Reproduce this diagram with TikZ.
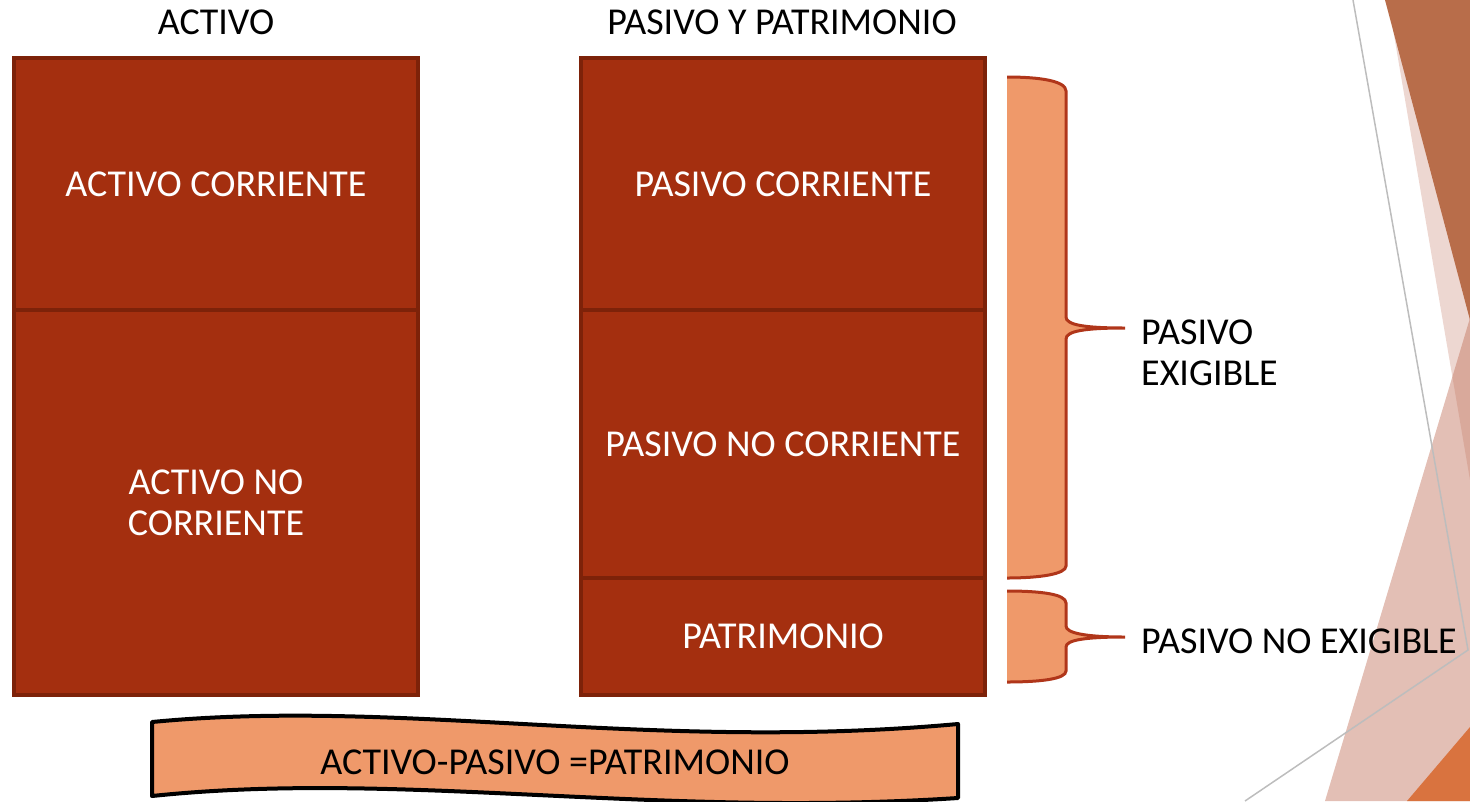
\documentclass[tikz,border=0pt]{standalone}
\usepackage{fontspec}
\setmainfont{Carlito}
\definecolor{boxfill}{HTML}{A42F0F}
\definecolor{boxline}{HTML}{7D2209}
\definecolor{bracefill}{HTML}{EF996A}
\definecolor{braceline}{HTML}{B0361A}
\definecolor{decodark}{HTML}{B86D4A}
\definecolor{decobase}{HTML}{C0705A}
\definecolor{decoorange}{HTML}{D9733F}
\definecolor{decoline}{HTML}{BDBDBD}
\begin{document}
\begin{tikzpicture}[x=1pt,y=-1pt,
  every node/.style={font=\fontsize{38}{41}\selectfont, inner sep=0pt},
  block/.style={draw=boxline, line width=3.5pt, fill=boxfill, text=white, minimum width=404pt, align=center},
  title/.style={text=black},
  label/.style={text=black, anchor=west, align=left},
  brace/.style={draw=braceline, line width=3pt},
  banner/.style={draw=black, line width=4pt, fill=bracefill, line join=round}]
\useasboundingbox (0,0) rectangle (1470,801);
% decoration on the right
\fill[decobase, opacity=0.28] (1388,0) -- (1470,0) -- (1470,480) -- cycle;
\fill[decodark] (1385,0) -- (1470,0) -- (1470,320) -- cycle;
\fill[decobase, opacity=0.45] (1470,318) -- (1325,801) -- (1470,801) -- cycle;
\fill[decoorange] (1407,801) -- (1470,727) -- (1470,801) -- cycle;
\draw[decoline, line width=1.5pt] (1353,0) -- (1468,650) -- (1245,801);
% titles
\node[title] (tact) at (216,22) {ACTIVO};
\node[title] (tpas) at (782,22) {PASIVO Y PATRIMONIO};
% blocks
\node[block, minimum height=252pt] (ac) at (216,184) {ACTIVO CORRIENTE};
\node[block, minimum height=385pt] (anc) at (216,502.5) {ACTIVO NO\\CORRIENTE};
\node[block, minimum height=252pt] (pc) at (783,184) {PASIVO CORRIENTE};
\node[block, minimum height=268pt] (pnc) at (783,444) {PASIVO NO CORRIENTE};
\node[block, minimum height=117pt] (pat) at (783,636.5) {PATRIMONIO};
% braces
\fill[bracefill] (1007,77) .. controls (1040,77) and (1066,81) .. (1066,91) -- (1066,317)
  .. controls (1066,325) and (1085,328) .. (1125,328) .. controls (1085,328) and (1066,331) .. (1066,339)
  -- (1066,566) .. controls (1066,574) and (1040,578) .. (1007,578) -- cycle;
\draw[brace] (1007,77) .. controls (1040,77) and (1066,81) .. (1066,91) -- (1066,317)
  .. controls (1066,325) and (1085,328) .. (1125,328) coordinate (tip1) .. controls (1085,328) and (1066,331) .. (1066,339)
  -- (1066,566) .. controls (1066,574) and (1040,578) .. (1007,578);
\fill[bracefill] (1007,591) .. controls (1040,591) and (1066,594) .. (1066,603) -- (1066,626)
  .. controls (1066,633) and (1085,637) .. (1125,637) .. controls (1085,637) and (1066,640) .. (1066,647)
  -- (1066,671) .. controls (1066,679) and (1040,682) .. (1007,682) -- cycle;
\draw[brace] (1007,591) .. controls (1040,591) and (1066,594) .. (1066,603) -- (1066,626)
  .. controls (1066,633) and (1085,637) .. (1125,637) coordinate (tip2) .. controls (1085,637) and (1066,640) .. (1066,647)
  -- (1066,671) .. controls (1066,679) and (1040,682) .. (1007,682);
\node[label] (lex) at (1141,353) {PASIVO\\EXIGIBLE};
\node[label] (lnex) at (1141,641) {PASIVO NO EXIGIBLE};
% banner
\draw[banner] (152,722) .. controls (400,698) and (650,752) .. (958,724) -- (958,798)
  .. controls (650,818) and (400,770) .. (152,796) -- cycle;
\node[text=black] (eq) at (555,762) {ACTIVO-PASIVO =PATRIMONIO};
\end{tikzpicture}
\end{document}
